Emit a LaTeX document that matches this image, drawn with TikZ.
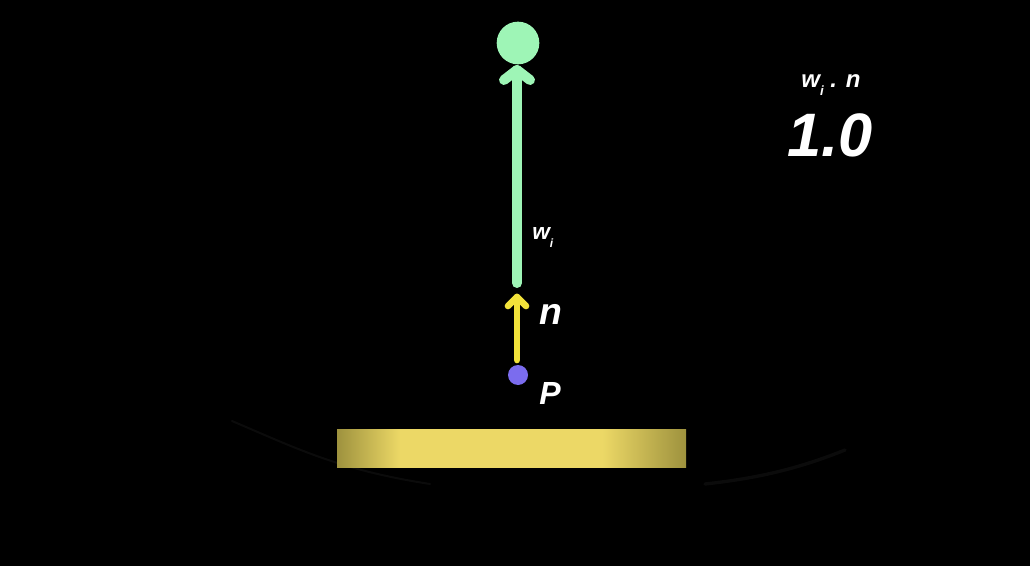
\documentclass[tikz,border=0pt]{standalone}
\usepackage{fontspec}
\setmainfont{Liberation Sans}
\definecolor{bardark}{HTML}{9E923E}
\definecolor{barlight}{HTML}{ECD866}
\definecolor{vgreen}{HTML}{9EF5B6}
\definecolor{nyellow}{HTML}{F2E23A}
\definecolor{pblue}{HTML}{7B6CEE}
\definecolor{faint}{HTML}{0B0B0B}
\pgfdeclarehorizontalshading{barshade}{100bp}{
  color(0bp)=(bardark); color(25bp)=(bardark); color(34bp)=(barlight); color(50bp)=(barlight); color(63bp)=(barlight); color(75bp)=(bardark); color(100bp)=(bardark)}
\tikzset{
  lbl/.style={text=white, font=\bfseries\itshape, inner sep=0pt},
  wline/.style={draw=vgreen, line width=7.5pt, line cap=round, line join=round},
  nline/.style={draw=nyellow, line width=5pt, line cap=round, line join=round},
}
\begin{document}
\begin{tikzpicture}[x=0.75pt,y=-0.75pt]
\fill[black] (0,0) rectangle (1030,566);
\useasboundingbox (0,0) rectangle (1030,566);
% faint bowl edge
\draw[faint, line width=1.5pt, line cap=round] (232,421) .. controls (300,450) and (340,470) .. (430,484);
\draw[faint, line width=2.5pt, line cap=round] (705,484) .. controls (760,478) and (800,468) .. (845,450);
% surface bar
\shade[shading=barshade] (337,429) rectangle (686,467);
\node (bar) at (511.5,448) {};
% light / direction wi
\node[circle, fill=vgreen, minimum size=32pt, inner sep=0pt] (g) at (518,43) {};
\coordinate (wtip) at (517,70);
\coordinate (wbase) at (517,283);
\draw[wline] (wbase) -- (wtip);
\draw[wline] (504,80) -- (wtip) -- (530,80);
% normal n
\node[circle, fill=pblue, minimum size=15pt, inner sep=0pt] (p) at (518,375) {};
\coordinate (ntip) at (517,297);
\coordinate (nbase) at (517,360);
\draw[nline] (nbase) -- (ntip);
\draw[nline] (508,306) -- (ntip) -- (526,306);
% labels
\node[lbl, font=\fontsize{17}{17}\selectfont\bfseries\itshape, anchor=base west] (wl) at (532,240) {w\raisebox{-0.6ex}{\fontsize{9}{9}\selectfont i}};
\node[lbl, font=\fontsize{28}{28}\selectfont\bfseries\itshape, anchor=base west] (nl) at (539,325) {n};
\node[lbl, font=\fontsize{24}{24}\selectfont\bfseries\itshape, anchor=base west] (pl) at (539,404) {P};
\node[lbl, font=\fontsize{18}{18}\selectfont\bfseries\itshape, anchor=base] (dot) at (831,88) {w\raisebox{-0.6ex}{\fontsize{10}{10}\selectfont i} . n};
\node[lbl, font=\fontsize{46}{46}\selectfont\bfseries\itshape, anchor=base] (val) at (830,157) {1.0};
\end{tikzpicture}
\end{document}
